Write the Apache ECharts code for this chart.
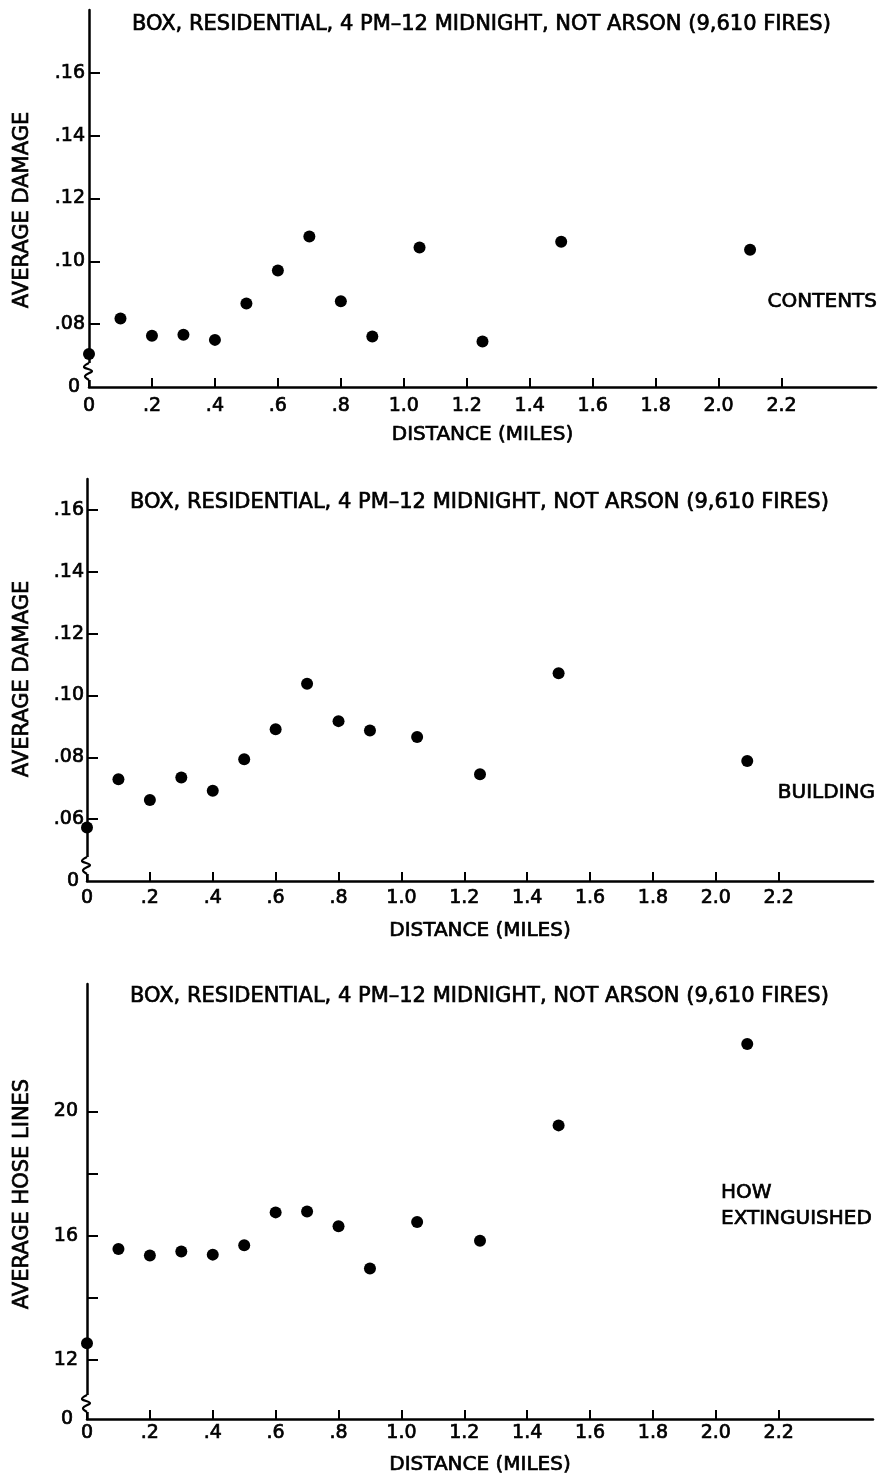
<!DOCTYPE html>
<html>
<head>
<meta charset="utf-8">
<script src="https://cdn.jsdelivr.net/npm/echarts@6/dist/echarts.min.js"></script>
<style>
  html, body { margin: 0; padding: 0; background: #fff; }
  #chart { width: 883px; height: 1479px; }
</style>
</head>
<body>
<div id="chart"></div>
<script>
// distances (miles) shared by all three panels
var distances = [0, 0.1, 0.2, 0.3, 0.4, 0.5, 0.6, 0.7, 0.8, 0.9, 1.05, 1.25, 1.5, 2.1];
var contentsDamage = [0.0705, 0.0818, 0.0763, 0.0766, 0.0750, 0.0866, 0.0971, 0.1079, 0.0873, 0.0761, 0.1044, 0.0745, 0.1062, 0.1037];
var buildingDamage = [0.0573, 0.0729, 0.0662, 0.0735, 0.0692, 0.0794, 0.0891, 0.1038, 0.0917, 0.0887, 0.0866, 0.0745, 0.1072, 0.0788];
var hoseLines = [12.54, 15.57, 15.36, 15.49, 15.39, 15.69, 16.75, 16.78, 16.30, 14.94, 16.44, 15.84, 19.55, 22.17];

var distanceTicks = [0, 0.2, 0.4, 0.6, 0.8, 1.0, 1.2, 1.4, 1.6, 1.8, 2.0, 2.2];
var contentsTicks = [0.08, 0.10, 0.12, 0.14, 0.16];
var buildingTicks = [0.06, 0.08, 0.10, 0.12, 0.14, 0.16];
var hoseTicks = [12, 14, 16, 18, 20];
var hoseLabels = [12, 16, 20];

var titleText = 'BOX, RESIDENTIAL, 4 PM\u201312 MIDNIGHT, NOT ARSON (9,610 FIRES)';

var chart = echarts.init(document.getElementById('chart'), null, {renderer: 'canvas'});
var font = 'DejaVu Sans';
var ink = '#000';

var grids = [
    {left: 89, top: 10, width: 787, height: 377},
    {left: 87, top: 479, width: 786, height: 402},
    {left: 87, top: 984, width: 786, height: 435}
];
var yMin = [0.06, 0.04, 10.1];
var yMax = [0.18, 0.17, 24.1];

function fmtDist(v) {
    if (Math.abs(v) < 1e-9) return '0';
    var s = v.toFixed(1);
    return v < 1 ? s.slice(1) : s;
}

function yFormatter(i) {
    return function (v) {
        if (v <= yMin[i] + 1e-9) return '{z|0}';
        return i < 2 ? v.toFixed(2).slice(1) : String(v);
    };
}

// heavier lettering like the original
var labelStyle = {color: ink, fontFamily: font, fontSize: 19, textBorderColor: ink, textBorderWidth: 0.7};

var xAxes = [0, 1, 2].map(function (i) {
    return {
        type: 'value', gridIndex: i, min: 0, max: 2.5, position: 'bottom',
        axisLine: {onZero: false, lineStyle: {color: ink, width: 2.5}},
        axisTick: {inside: true, length: 9, lineStyle: {color: ink, width: 2}, customValues: distanceTicks},
        axisLabel: Object.assign({customValues: distanceTicks, formatter: fmtDist, margin: [10, 8, 5][i]}, labelStyle),
        splitLine: {show: false},
        name: 'DISTANCE (MILES)', nameLocation: 'middle', nameGap: [38, 40, 36][i],
        nameTextStyle: {color: ink, fontFamily: font, fontSize: 20, textBorderColor: ink, textBorderWidth: 0.7}
    };
});

var yTicks = [contentsTicks, buildingTicks, hoseTicks];
var yLabelVals = [[0.06].concat(contentsTicks), [0.04].concat(buildingTicks), [10.1].concat(hoseLabels)];

var yAxes = [0, 1, 2].map(function (i) {
    return {
        type: 'value', gridIndex: i, min: yMin[i], max: yMax[i],
        axisLine: {onZero: false, lineStyle: {color: ink, width: 2.5}},
        axisTick: {inside: true, length: 11, lineStyle: {color: ink, width: 2}, customValues: yTicks[i]},
        axisLabel: Object.assign({
            customValues: yLabelVals[i], formatter: yFormatter(i), margin: [4, 3, 9][i],
            rich: {z: Object.assign({padding: [0, 5, 0, 0]}, labelStyle)}
        }, labelStyle),
        splitLine: {show: false}
    };
});

var seriesData = [contentsDamage, buildingDamage, hoseLines];
var series = seriesData.map(function (arr, i) {
    return {
        type: 'scatter', xAxisIndex: i, yAxisIndex: i,
        symbolSize: 12,
        itemStyle: {color: ink, opacity: 1},
        data: distances.map(function (d, k) { return [d, arr[k]]; })
    };
});

function txt(x, y, s, opts) {
    opts = opts || {};
    return {
        type: 'text', x: x, y: y, rotation: opts.rotation || 0, z: 10,
        style: {
            text: s, fill: ink, stroke: ink, lineWidth: 0.7,
            font: (opts.size || 20) + 'px "' + font + '"',
            textAlign: opts.align || 'left', textVerticalAlign: 'middle'
        }
    };
}

var labels = [
    txt(132, 25, titleText, {size: 21}),
    txt(130, 503, titleText, {size: 21}),
    txt(130, 997, titleText, {size: 21}),
    txt(877, 302, 'CONTENTS', {align: 'right'}),
    txt(875, 793, 'BUILDING', {align: 'right'}),
    txt(721, 1193, 'HOW'),
    txt(721, 1219, 'EXTINGUISHED'),
    txt(23, 210, 'AVERAGE DAMAGE', {rotation: Math.PI / 2, align: 'center', size: 21}),
    txt(23, 679, 'AVERAGE DAMAGE', {rotation: Math.PI / 2, align: 'center', size: 21}),
    txt(23, 1194, 'AVERAGE HOSE LINES', {rotation: Math.PI / 2, align: 'center', size: 21})
];

chart.setOption({
    backgroundColor: '#fff',
    animation: false,
    grid: grids,
    xAxis: xAxes,
    yAxis: yAxes,
    series: series,
    graphic: labels
});

// axis break squiggle just above the "0" at the bottom of each y axis
var breaks = [];
[0, 1, 2].forEach(function (i) {
    var x = chart.convertToPixel({xAxisIndex: i}, 0);
    var yb = chart.convertToPixel({yAxisIndex: i}, yMin[i]);
    var y0 = yb - 24, y1 = yb - 7;
    breaks.push({
        type: 'rect', z: 20,
        shape: {x: x - 3, y: y0, width: 6, height: y1 - y0},
        style: {fill: '#fff'}
    });
    breaks.push({
        type: 'polyline', z: 21,
        shape: {points: [[x, y0], [x - 5, y0 + 4], [x + 3, y0 + 8], [x - 4, y0 + 13], [x, y1]], smooth: 0.4},
        style: {stroke: ink, lineWidth: 2.2, fill: null}
    });
});
chart.setOption({graphic: labels.concat(breaks)});
</script>
</body>
</html>
